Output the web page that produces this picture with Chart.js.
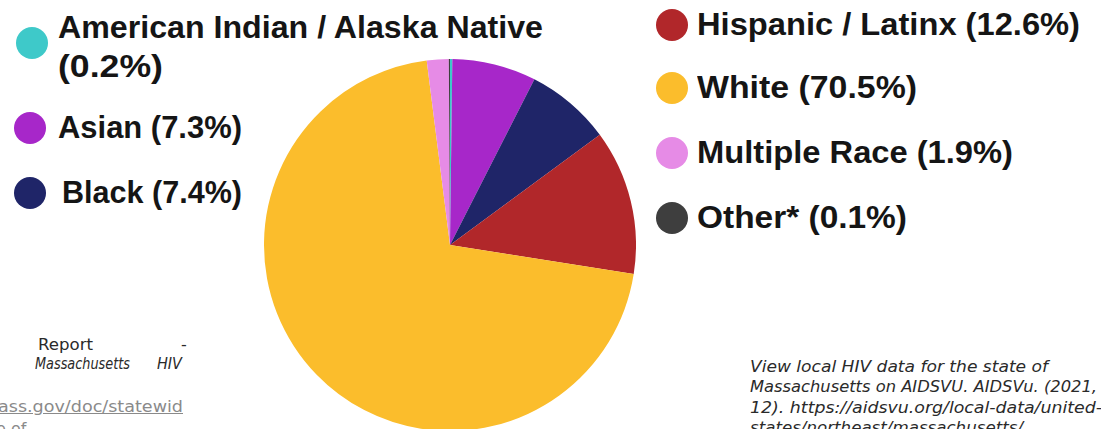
<!DOCTYPE html>
<html>
<head>
<meta charset="utf-8">
<script src="https://cdn.jsdelivr.net/npm/chart.js@4.4.1/dist/chart.umd.min.js"></script>
<style>
  html, body { margin: 0; padding: 0; background: #fff; overflow: hidden; }
  body { width: 1101px; height: 429px; position: relative; font-family: "Liberation Sans", Arial, sans-serif; }
  #pieBox { position: absolute; left: 264px; top: 59px; width: 372px; height: 372px; }
  .item { position: absolute; font-weight: bold; font-size: 31px; color: #151515; white-space: nowrap; line-height: 36px; transform-origin: 0 50%; }
  .dot { position: absolute; width: 32px; height: 32px; border-radius: 50%; }
  .txt { position: absolute; font-family: "DejaVu Sans", sans-serif; font-size: 16px; line-height: 20px; color: #2a2a2a; white-space: nowrap; transform-origin: 0 50%; }
  .it { font-style: italic; }
  .link { color: #8a8a8a; text-decoration: underline; }
</style>
</head>
<body>
<div id="pieBox"><canvas id="pie"></canvas></div>

<div class="txt fit" data-w="55" style="left:38px;top:335px;">Report</div>
<div class="txt" style="left:181px;top:335px;">-</div>
<div class="txt it fit" data-w="95" style="left:35px;top:354px;">Massachusetts</div>
<div class="txt it fit" data-w="25" style="left:157px;top:354px;">HIV</div>
<div class="txt link fit" data-w="185" style="left:-2px;top:397px;">ass.gov/doc/statewid</div>
<div class="txt" style="left:-4px;top:419px;color:#8a8a8a;">e of</div>

<div class="txt it fit" data-w="298" style="left:750px;top:357px;">View local HIV data for the state of</div>
<div class="txt it fit" data-w="347" style="left:750px;top:377px;">Massachusetts on AIDSVU. AIDSVu. (2021,</div>
<div class="txt it fit" data-w="352" style="left:750px;top:398px;">12). https://aidsvu.org/local-data/united-</div>
<div class="txt it fit" data-w="273" style="left:750px;top:418px;">states/northeast/massachusetts/</div>

<script>
const groups = ['American Indian / Alaska Native', 'Asian', 'Black', 'Hispanic / Latinx', 'White', 'Multiple Race', 'Other*'];
const shares = [0.2, 7.3, 7.4, 12.6, 70.5, 1.9, 0.1];
const colors = ['#3ec9c9', '#a727c9', '#1f2568', '#b1272a', '#fbbd2c', '#e68be6', '#3e3e3e'];

// legend layout: [textLeft, textTop, dotLeft, dotTop, textWidth]
const slots = [
  [58, 10, 16, 27, 485],
  [58, 110, 14, 112, 184],
  [62, 175, 14, 177, 180],
  [697, 7, 656, 9, 383],
  [697, 70, 656, 72, 220],
  [697, 135, 656, 137, 316],
  [697, 200, 656, 202, 210]
];

function addText(str, left, top, w) {
  const t = document.createElement('div');
  t.className = 'item fit';
  t.style.left = left + 'px';
  t.style.top = top + 'px';
  t.dataset.w = w;
  t.textContent = str;
  document.body.appendChild(t);
}

groups.forEach((g, i) => {
  const s = slots[i];
  const d = document.createElement('div');
  d.className = 'dot';
  d.style.left = s[2] + 'px';
  d.style.top = s[3] + 'px';
  d.style.background = colors[i];
  document.body.appendChild(d);
  const pct = '(' + shares[i].toFixed(1) + '%)';
  if (i === 0) {
    addText(g, s[0], s[1], s[4]);
    addText(pct, s[0], s[1] + 39, 105);
  } else {
    addText(g + ' ' + pct, s[0], s[1], s[4]);
  }
});

// squeeze/stretch text to the widths seen in the picture
document.querySelectorAll('.fit').forEach(el => {
  const w = el.getBoundingClientRect().width;
  el.style.transform = 'scaleX(' + (el.dataset.w / w) + ')';
});

const ctx = document.getElementById('pie').getContext('2d');
new Chart(ctx, {
  type: 'pie',
  data: {
    labels: groups,
    datasets: [{
      data: shares,
      backgroundColor: colors,
      borderWidth: 0
    }]
  },
  options: {
    responsive: true,
    maintainAspectRatio: false,
    animation: false,
    layout: { padding: 0 },
    plugins: {
      legend: { display: false },
      tooltip: { enabled: false }
    }
  }
});
</script>
</body>
</html>
